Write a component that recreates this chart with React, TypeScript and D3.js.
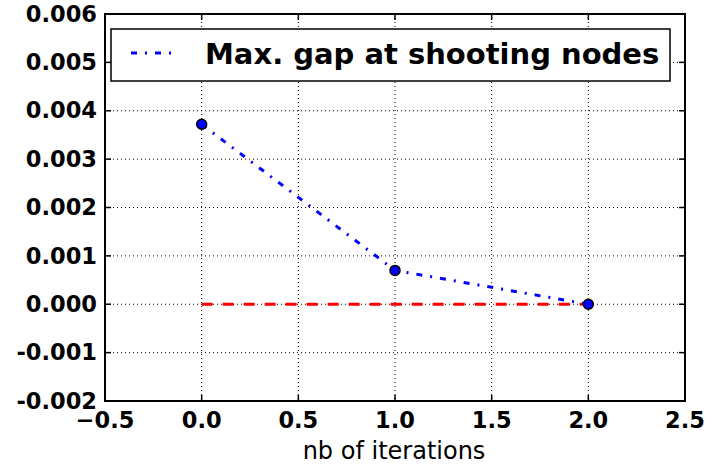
import React from "react";
import * as d3 from "d3";

const iterations = [0, 1, 2];
const maxGap = [0.00372, 0.0007, 0.0];
const zeroLine = [0, 0, 0];
const xTicks = [-0.5, 0.0, 0.5, 1.0, 1.5, 2.0, 2.5];
const yTicks = [-0.002, -0.001, 0.0, 0.001, 0.002, 0.003, 0.004, 0.005, 0.006];
const legendLabel = "Max. gap at shooting nodes";
const xLabel = "nb of iterations";

const W = 706, H = 466;
const L = 105, R = 685, T = 14, B = 401;

export default function App() {
  const x = d3.scaleLinear().domain([-0.5, 2.5]).range([L, R]);
  const y = d3.scaleLinear().domain([-0.002, 0.006]).range([B, T]);
  const line = d3.line<number>().x((_, i) => x(iterations[i])).y((d) => y(d));
  const font = "DejaVu Sans, sans-serif";
  return (
    <svg width={W} height={H} style={{ position: "absolute", left: 0, top: 0, background: "#fff" }}>
      <rect x={0} y={0} width={W} height={H} fill="#fff" />
      {/* grid */}
      {xTicks.map((t, i) => (
        <line key={"gx" + i} x1={x(t)} x2={x(t)} y1={T} y2={B} stroke="#000" strokeWidth={1} strokeDasharray="1,3" />
      ))}
      {yTicks.map((t, i) => (
        <line key={"gy" + i} x1={L} x2={R} y1={y(t)} y2={y(t)} stroke="#000" strokeWidth={1} strokeDasharray="1,3" />
      ))}
      {/* data */}
      <path d={line(zeroLine) || ""} fill="none" stroke="#ff0000" strokeWidth={3} strokeDasharray="11,10" />
      <path d={line(maxGap) || ""} fill="none" stroke="#0000ff" strokeWidth={3} strokeDasharray="6,8,2,8" />
      {maxGap.map((v, i) => (
        <circle key={"m" + i} cx={x(iterations[i])} cy={y(v)} r={5} fill="#0000ff" stroke="#000" strokeWidth={1.5} />
      ))}
      {/* ticks */}
      {xTicks.map((t, i) => (
        <g key={"tx" + i}>
          <line x1={x(t)} x2={x(t)} y1={B} y2={B - 6} stroke="#000" strokeWidth={1.5} />
          <line x1={x(t)} x2={x(t)} y1={T} y2={T + 6} stroke="#000" strokeWidth={1.5} />
          <text x={x(t)} y={428} textAnchor="middle" fontFamily={font} fontWeight="bold" fontSize={22.5}>
            {t < 0 ? "\u2212" + Math.abs(t).toFixed(1) : t.toFixed(1)}
          </text>
        </g>
      ))}
      {yTicks.map((t, i) => (
        <g key={"ty" + i}>
          <line x1={L} x2={L + 6} y1={y(t)} y2={y(t)} stroke="#000" strokeWidth={1.5} />
          <line x1={R} x2={R - 6} y1={y(t)} y2={y(t)} stroke="#000" strokeWidth={1.5} />
          <text x={97} y={y(t)} dy="0.34em" textAnchor="end" fontFamily={font} fontWeight="bold" fontSize={22.5}>
            {t < 0 ? "-" + Math.abs(t).toFixed(3) : t.toFixed(3)}
          </text>
        </g>
      ))}
      <rect x={L} y={T} width={R - L} height={B - T} fill="none" stroke="#000" strokeWidth={2} />
      {/* legend */}
      <rect x={111} y={29} width={559} height={52} fill="#fff" stroke="#000" strokeWidth={1.5} />
      <line x1={131} x2={173} y1={53} y2={53} stroke="#0000ff" strokeWidth={3} strokeDasharray="6,8,2,8" />
      <text x={205} y={64} fontFamily={font} fontWeight="bold" fontSize={29}>{legendLabel}</text>
      <text x={(L + R) / 2 - 1} y={459} textAnchor="middle" fontFamily={font} fontSize={24}>{xLabel}</text>
    </svg>
  );
}
